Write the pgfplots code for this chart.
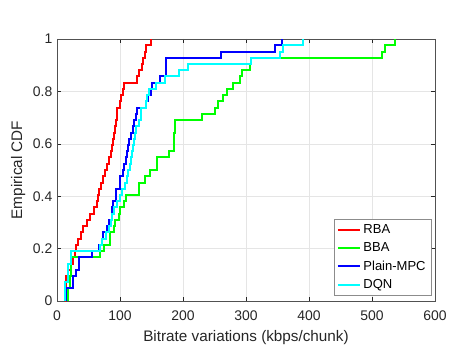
\documentclass[border=0pt]{standalone}
\usepackage{fontspec}
\setmainfont{Liberation Sans}
\usepackage{pgfplots}
\pgfplotsset{compat=1.18}
\usetikzlibrary{calc}
\definecolor{axgray}{RGB}{38,38,38}
\definecolor{mred}{RGB}{255,0,0}
\definecolor{mgreen}{RGB}{0,255,0}
\definecolor{mblue}{RGB}{0,0,255}
\definecolor{mcyan}{RGB}{0,255,255}
\begin{document}
\begin{tikzpicture}
\begin{axis}[
    scale only axis,
    width=283.5bp, height=196.5bp,
    xmin=0, xmax=600, ymin=0, ymax=1,
    xtick={0,100,...,600},
    ytick={0,0.2,0.4,0.6,0.8,1},
    yticklabels={0,0.2,0.4,0.6,0.8,1},
    /pgf/number format/assume math mode=true,
    tick align=inside,
    major tick length=3bp,
    tick style={axgray, line width=0.4pt},
    axis line style={axgray!80, line width=0.5pt},
    grid=major,
    grid style={black!10, line width=0.4pt},
    tick label style={font=\fontsize{10.5}{12}\selectfont, text=axgray},
    xticklabel style={yshift=-4bp},
    xlabel={Bitrate variations (kbps/chunk)},
    ylabel={Empirical CDF},
    xlabel style={font=\fontsize{11.5}{13}\selectfont, text=axgray, at={(axis description cs:0.5,-0.141)}, anchor=center},
    ylabel style={font=\fontsize{11.5}{13}\selectfont, text=axgray, at={(axis description cs:-0.103,0.5)}, anchor=center, rotate=0},
    legend style={at={(rel axis cs:0.99,0.02)}, anchor=south east,
        font=\fontsize{9.8}{11}\selectfont, draw=black!45, line width=0.4pt,
        inner sep=2bp, row sep=1.3bp, cells={anchor=west}},
    legend image code/.code={\draw[#1, line width=1.5bp] (0bp,0bp) -- (16.5bp,0bp);},
]
\addplot[mred, const plot, line width=1.5bp] coordinates {
(12,0) (12.5,0.048) (15,0.095) (18,0.119) (22,0.143) (25,0.167) (28,0.19)
(30,0.214) (34,0.238) (38,0.262) (42,0.286) (47,0.31) (52,0.333) (58,0.357)
(63,0.381) (65,0.405) (67,0.429) (70,0.452) (73,0.476) (76,0.5) (80,0.524)
(82,0.548) (86,0.571) (88,0.595) (89,0.619) (91,0.643) (91.5,0.667) (94,0.69)
(95,0.714) (96,0.738) (100,0.762) (102,0.786) (104,0.81) (106,0.833)
(127,0.857) (130,0.881) (135,0.905) (137,0.929) (139,0.952) (142,0.976) (149,1)
};
\addlegendentry{RBA}
\addplot[mgreen, const plot, line width=1.5bp] coordinates {
(18,0) (18,0.048) (20,0.095) (22,0.167) (67.6,0.19) (74,0.214) (83.5,0.238)
(84.5,0.262) (90,0.286) (92.5,0.31) (97.7,0.333) (100.4,0.357) (105.7,0.381)
(110,0.405) (129.5,0.452) (140,0.476) (148,0.5) (158.5,0.548) (177,0.571)
(186,0.643) (188,0.69) (230,0.714) (250,0.738) (256,0.762) (264,0.786)
(270,0.81) (280,0.833) (290,0.857) (293,0.881) (306.6,0.905) (308,0.929)
(516,0.952) (521,0.976) (536,1)
};
\addlegendentry{BBA}
\addplot[mblue, const plot, line width=1.5bp] coordinates {
(15,0) (15,0.048) (25,0.095) (30,0.119) (35,0.167) (56,0.19) (67,0.214)
(71,0.238) (73.5,0.262) (79,0.286) (83,0.31) (86.7,0.357) (89.4,0.381)
(93.6,0.429) (100,0.476) (104,0.5) (106,0.524) (109.5,0.548) (111,0.571)
(113,0.595) (115,0.619) (118,0.643) (121,0.667) (123,0.69) (126,0.714)
(127,0.738) (141,0.762) (145,0.786) (149,0.81) (151,0.833) (163.5,0.857)
(172.5,0.929) (260,0.952) (346,0.976) (356.5,1)
};
\addlegendentry{Plain-MPC}
\addplot[mcyan, const plot, line width=1.5bp] coordinates {
(13,0) (13,0.071) (17,0.095) (17.5,0.143) (23,0.19) (68,0.214) (72,0.238)
(78,0.262) (83,0.286) (86,0.31) (88,0.333) (90,0.357) (95,0.381) (100,0.405)
(103,0.429) (108,0.452) (111,0.476) (113,0.5) (116,0.524) (118,0.548)
(119,0.571) (121,0.595) (122,0.619) (124,0.643) (126,0.667) (130,0.69)
(134,0.738) (142,0.762) (142.5,0.786) (146,0.81) (157,0.833) (172,0.857)
(193,0.881) (208.7,0.905) (308,0.929) (354,0.952) (358.5,0.976) (390,1)
};
\addlegendentry{DQN}
\coordinate (bl) at (rel axis cs:0,0);
\coordinate (tr) at (rel axis cs:1,1);
\end{axis}
\pgfresetboundingbox
\path ($(bl)+(-42.75bp,-40.5bp)$) rectangle ($(tr)+(28.5bp,29.25bp)$);
\end{tikzpicture}
\end{document}
